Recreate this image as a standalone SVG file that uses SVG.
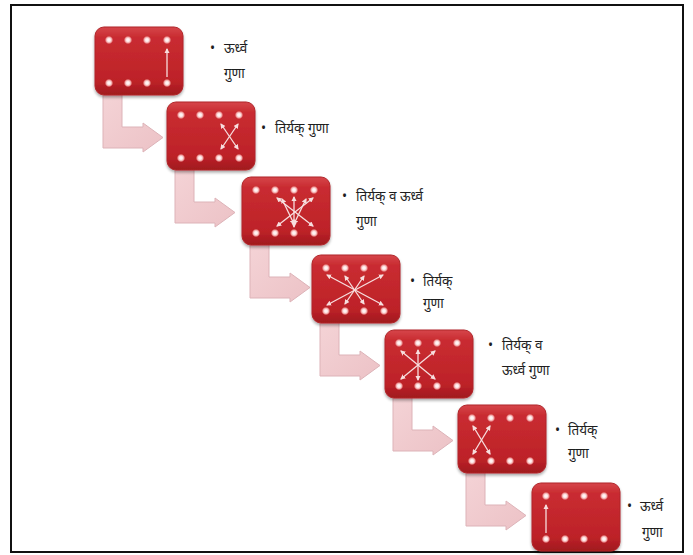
<svg xmlns="http://www.w3.org/2000/svg" width="693" height="555" viewBox="0 0 693 555">
<style>
.box{fill:url(#boxg);stroke:#b0262a;stroke-width:1}
.arr{fill:url(#arrg);stroke:#ddb3b8;stroke-width:1}
.dot{fill:url(#dotg)}
.ln{stroke:#f7dede;stroke-width:1.3;fill:none;marker-start:url(#ah);marker-end:url(#ah)}
.up{stroke:#f7dede;stroke-width:1.3;fill:none;marker-end:url(#ah)}
.t{font-family:"Noto Sans","Liberation Sans",sans-serif;font-size:13.5px;fill:#1e1e1e}
</style>
<defs>
<linearGradient id="boxg" x1="0" y1="0" x2="0" y2="1">
<stop offset="0" stop-color="#d6454a"/>
<stop offset="0.15" stop-color="#c92c31"/>
<stop offset="0.8" stop-color="#bd2228"/>
<stop offset="1" stop-color="#a0191e"/>
</linearGradient>
<linearGradient id="arrg" x1="0" y1="0" x2="1" y2="1">
<stop offset="0" stop-color="#f4d3d6"/>
<stop offset="1" stop-color="#ecc2c6"/>
</linearGradient>
<radialGradient id="dotg">
<stop offset="0" stop-color="#ffffff"/>
<stop offset="0.4" stop-color="#fde4e4"/>
<stop offset="0.7" stop-color="#ee9a9a"/>
<stop offset="1" stop-color="#e06a6c" stop-opacity="0"/>
</radialGradient>
<marker id="ah" viewBox="0 0 10 10" refX="8" refY="5" markerWidth="4" markerHeight="4" orient="auto-start-reverse">
<path d="M0,0 L10,5 L0,10 Z" fill="#f7dede"/>
</marker>
<filter id="sh" x="-10%" y="-10%" width="125%" height="130%">
<feGaussianBlur in="SourceAlpha" stdDeviation="1.5"/>
<feOffset dx="0" dy="1.5" result="b"/>
<feComponentTransfer><feFuncA type="linear" slope="0.35"/></feComponentTransfer>
<feMerge><feMergeNode/><feMergeNode in="SourceGraphic"/></feMerge>
</filter>
<g id="bx">
<rect class="box" x="0" y="0" width="88" height="68" rx="9" filter="url(#sh)"/>
<circle class="dot" cx="14" cy="13" r="4.3"/><circle class="dot" cx="33" cy="13" r="4.3"/><circle class="dot" cx="52" cy="13" r="4.3"/><circle class="dot" cx="72" cy="13" r="4.3"/>
<circle class="dot" cx="14" cy="56" r="4.3"/><circle class="dot" cx="33" cy="56" r="4.3"/><circle class="dot" cx="52" cy="56" r="4.3"/><circle class="dot" cx="72" cy="56" r="4.3"/>
</g>
<path id="ba" class="arr" d="M8,66 H27 V100 H48 V96 L68,110.5 L48,125 V121 H8 Z"/>
</defs>
<rect x="11" y="5" width="672" height="547" fill="#fff" stroke="#111" stroke-width="2"/>
<g id="connectors">
<use href="#ba" transform="translate(95,27)"/>
<use href="#ba" transform="translate(167,102)"/>
<use href="#ba" transform="translate(242,177)"/>
<use href="#ba" transform="translate(312,255)"/>
<use href="#ba" transform="translate(385,330)"/>
<use href="#ba" transform="translate(458,405)"/>
</g>
<g id="node1" transform="translate(95,27)">
<use href="#bx"/>
<line class="up" x1="72" y1="50" x2="72" y2="22"/>
</g>
<g id="node2" transform="translate(167,102)">
<use href="#bx"/>
<line class="ln" x1="54" y1="22" x2="71" y2="47"/>
<line class="ln" x1="71" y1="22" x2="54" y2="47"/>
</g>
<g id="node3" transform="translate(242,177)">
<use href="#bx"/>
<line class="ln" x1="35" y1="21" x2="71" y2="49"/>
<line class="ln" x1="71" y1="21" x2="35" y2="49"/>
<line class="ln" x1="52" y1="20" x2="52" y2="50"/>
<line class="ln" x1="40" y1="22" x2="52" y2="47"/>
<line class="ln" x1="64" y1="22" x2="52" y2="47"/>
</g>
<g id="node4" transform="translate(312,255)">
<use href="#bx"/>
<line class="ln" x1="15" y1="20" x2="71" y2="50"/>
<line class="ln" x1="71" y1="20" x2="15" y2="50"/>
<line class="ln" x1="33" y1="21" x2="52" y2="49"/>
<line class="ln" x1="52" y1="21" x2="33" y2="49"/>
</g>
<g id="node5" transform="translate(385,330)">
<use href="#bx"/>
<line class="ln" x1="16" y1="21" x2="50" y2="49"/>
<line class="ln" x1="50" y1="21" x2="16" y2="49"/>
<line class="ln" x1="33" y1="20" x2="33" y2="50"/>
</g>
<g id="node6" transform="translate(458,405)">
<use href="#bx"/>
<line class="ln" x1="15" y1="21" x2="32" y2="49"/>
<line class="ln" x1="32" y1="21" x2="15" y2="49"/>
</g>
<g id="node7" transform="translate(532,483)">
<use href="#bx"/>
<line class="up" x1="14" y1="50" x2="14" y2="22"/>
</g>
<g id="labels">
<text class="t" x="210" y="53">•</text><text class="t" x="224" y="53">ऊर्ध्व</text>
<text class="t" x="224" y="78">गुणा</text>
<text class="t" x="261" y="133">•</text><text class="t" x="275" y="133">तिर्यक् गुणा</text>
<text class="t" x="342" y="201">•</text><text class="t" x="356" y="201">तिर्यक् व ऊर्ध्व</text>
<text class="t" x="356" y="226">गुणा</text>
<text class="t" x="410" y="286">•</text><text class="t" x="423" y="286">तिर्यक्</text>
<text class="t" x="423" y="308">गुणा</text>
<text class="t" x="488" y="350">•</text><text class="t" x="502" y="350">तिर्यक् व</text>
<text class="t" x="502" y="375">ऊर्ध्व गुणा</text>
<text class="t" x="555" y="435">•</text><text class="t" x="568" y="435">तिर्यक्</text>
<text class="t" x="568" y="458">गुणा</text>
<text class="t" x="627" y="511">•</text><text class="t" x="640" y="511">ऊर्ध्व</text>
<text class="t" x="642" y="537">गुणा</text>
</g>
</svg>
